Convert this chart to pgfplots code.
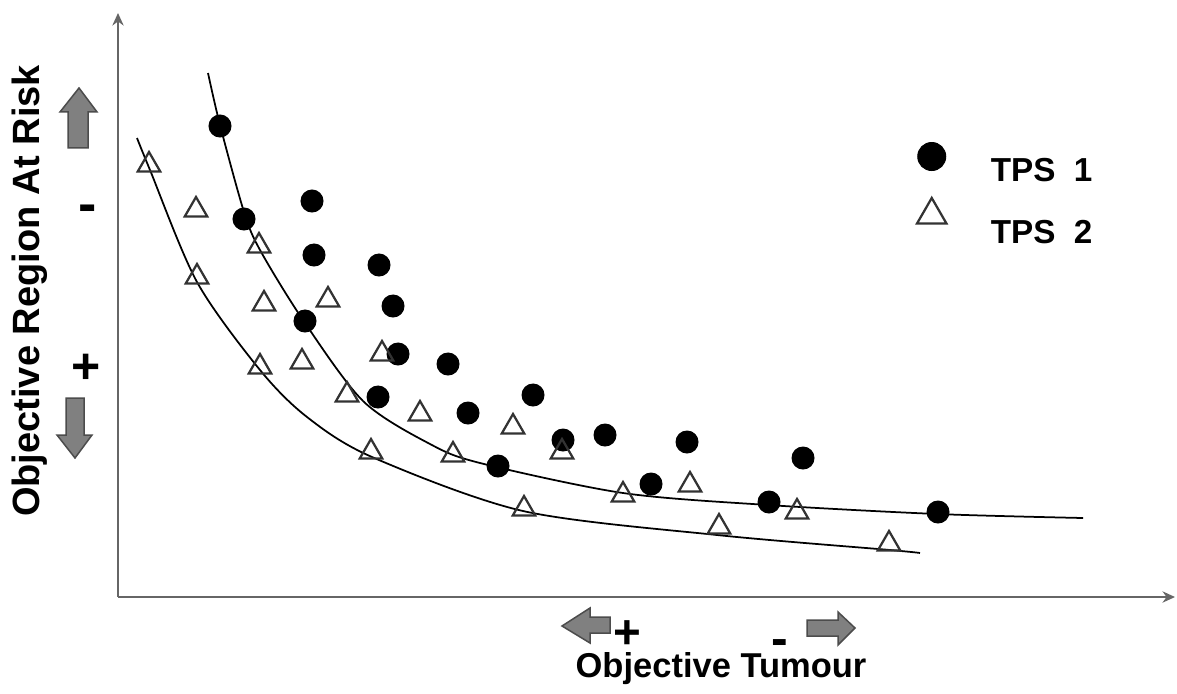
\documentclass[border=0pt]{standalone}
\usepackage{pgfplots}
\pgfplotsset{compat=1.18}
\usepackage{fontspec}
\setmainfont{Liberation Sans}
\usetikzlibrary{arrows.meta}

\pgfplotsset{
  big mark legend/.style={legend image code/.code={%
    \draw[##1, mark size=#1] plot coordinates {(0cm,6.2pt)};
    \path[draw=none, fill=none] (0cm,0cm) -- (0.76cm,0cm);}},
}

\begin{document}
\begin{tikzpicture}
\begin{axis}[
  at={(0,0)}, anchor=south west,
  x=0.4pt, y=0.4pt,
  xmin=0, xmax=1057, ymin=0, ymax=584,
  axis x line=bottom, axis y line=left,
  axis line style={draw=black!60, line width=1pt, -{Stealth[length=5pt,width=4.5pt]}},
  xtick=\empty, ytick=\empty,
  clip=false,
  legend style={draw=none, fill=none, at={(axis cs:791,460)}, anchor=north west,
    font=\bfseries\fontsize{13.3}{15}\selectfont, row sep=3pt},
  legend cell align=left,
]
% fitted curves
\addplot[black, line width=0.7pt, smooth, forget plot] coordinates {
  (90,524) (102,472) (126,385) (142,347) (185,277) (245,196) (312,153)
  (362,134) (505,104) (650,92) (819,83) (965,79)};
\addplot[black, line width=0.7pt, smooth, forget plot] coordinates {
  (19,459) (32,427) (79,315) (142,227) (189,180) (254,140) (405,86)
  (599,62) (772,47) (802,44)};
% TPS 1
\addplot[only marks, mark=*, mark size=4.4pt, black, big mark legend=5.6pt] coordinates {
  (102,471) (126,378) (194,396) (196,342) (261,332) (275,291) (187,276)
  (280,243) (330,233) (260,200) (350,184) (415,202) (445,157) (487,162)
  (569,155) (380,131) (533,113) (685,139) (651,95) (820,85)};
\addlegendentry{TPS~~1}
% TPS 2
\addplot[only marks, mark=triangle, mark size=5.2pt, black!80,
  mark options={line width=0.9pt, yshift=1.2pt}, big mark legend=6.8pt] coordinates {
  (31,429) (78,384) (141,348) (79,317) (146,290) (210,294) (264,240)
  (184,232) (142,227) (229,199) (302,180) (395,167) (444,142) (253,142)
  (335,139) (406,85) (505,99) (572,109) (601,67) (679,82) (771,50)};
\addlegendentry{TPS~~2}
\end{axis}

\begin{scope}[x=0.4pt, y=-0.4pt, shift={(-47.2pt,238.8pt)}]
  \path (0,0) rectangle (1177,693);
  % axis titles
  \node[rotate=90, font=\bfseries\fontsize{15.2}{18}\selectfont] at (30,291) {Objective Region At Risk};
  \node[inner sep=0pt, anchor=base, font=\bfseries\fontsize{13.8}{16}\selectfont] at (721,677) {Objective Tumour};
  % direction signs
  \node[inner sep=0pt, font=\bfseries\fontsize{22}{26}\selectfont] at (88,214) {-};
  \node[inner sep=0pt, font=\bfseries\fontsize{20}{24}\selectfont] at (86,369) {+};
  \node[inner sep=0pt, anchor=base, font=\bfseries\fontsize{19}{22}\selectfont] at (627,648) {+};
  \node[inner sep=0pt, anchor=base, font=\bfseries\fontsize{20}{24}\selectfont] at (780,655) {-};
  % block arrows
  \begin{scope}[fill=black!50, draw=black!70, line width=0.6pt]
    \filldraw (79,88) -- (97,112) -- (88,112) -- (88,148) -- (68,148) -- (68,112) -- (60,112) -- cycle;
    \filldraw (66,398) -- (84,398) -- (84,435) -- (92,435) -- (75,458) -- (57,435) -- (66,435) -- cycle;
    \filldraw (562,626) -- (590,608) -- (590,617) -- (610,617) -- (610,633) -- (590,633) -- (590,643) -- cycle;
    \filldraw (807,620) -- (838,620) -- (838,612) -- (855,628) -- (838,645) -- (838,636) -- (807,636) -- cycle;
  \end{scope}
\end{scope}
\end{tikzpicture}
\end{document}
